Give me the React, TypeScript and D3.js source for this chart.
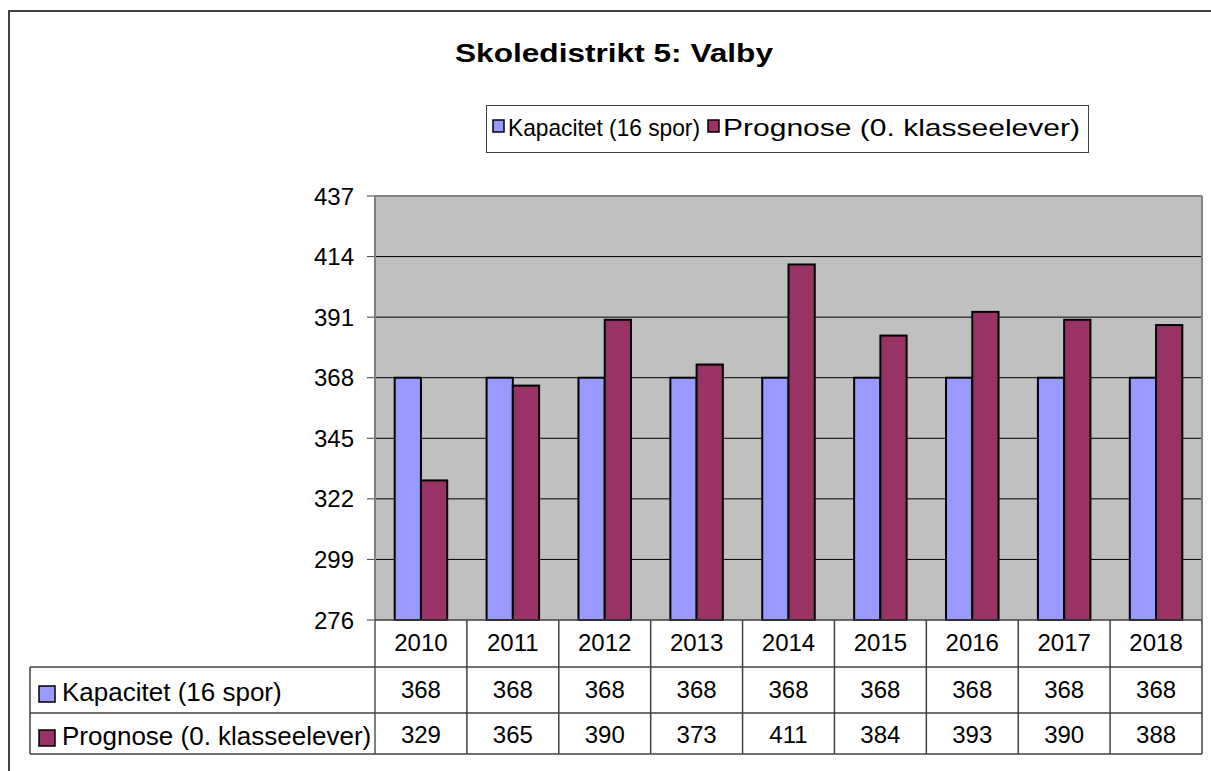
import React from "react";
import * as d3 from "d3";

const years = ["2010", "2011", "2012", "2013", "2014", "2015", "2016", "2017", "2018"];
const kapacitet = [368, 368, 368, 368, 368, 368, 368, 368, 368];
const prognose = [329, 365, 390, 373, 411, 384, 393, 390, 388];
const yTicks = [276, 299, 322, 345, 368, 391, 414, 437];
const seriesNames = ["Kapacitet (16 spor)", "Prognose (0. klasseelever)"];
const seriesColors = ["#9999FF", "#993366"];

const W = 1211;
const H = 771;
const FONT = "'Liberation Sans', Arial, sans-serif";

const App = () => {
  const plot = { left: 375, right: 1202, top: 196, bottom: 620 };
  const x = d3.scaleBand().domain(years).range([plot.left, plot.right]);
  // excel gap width 150%: two bars + 0.75 bar gap on each side
  const barW = x.bandwidth() / 3.5;
  const y = d3.scaleLinear().domain([276, 437]).range([plot.bottom, plot.top]);

  const series = [kapacitet, prognose];
  const rowTop = [620, 667, 713, 754];
  const tableLeft = 30;
  const numBase = [651, 698, 743];
  const labelBase = [701, 745];
  const legendX = [493, 708];
  const legendLen = [192, 357];

  return (
    <svg
      width={W}
      height={H}
      style={{ position: "absolute", left: 0, top: 0 }}
      fontFamily={FONT}
    >
      <rect x={0} y={0} width={W} height={H} fill="#fff" />
      <rect x={9} y={11} width={W + 10} height={H + 10} fill="none" stroke="#404040" strokeWidth={2} />

      <text
        x={614}
        y={62}
        textAnchor="middle"
        fontSize={26}
        fontWeight="bold"
        textLength={318}
        lengthAdjust="spacingAndGlyphs"
      >
        Skoledistrikt 5: Valby
      </text>

      {/* legend */}
      <rect x={486.5} y={105.5} width={602} height={47} fill="#fff" stroke="#404040" strokeWidth={1} />
      {seriesNames.map((n, i) => (
        <g key={n}>
          <rect x={legendX[i]} y={120} width={11} height={12} fill={seriesColors[i]} stroke="#000" strokeWidth={1.5} />
          <text
            x={legendX[i] + 15}
            y={136}
            fontSize={24}
            textLength={legendLen[i]}
            lengthAdjust="spacingAndGlyphs"
          >
            {n}
          </text>
        </g>
      ))}

      {/* plot area */}
      <rect x={plot.left} y={plot.top} width={plot.right - plot.left} height={plot.bottom - plot.top} fill="#C0C0C0" />
      {yTicks.map((t) => (
        <g key={t}>
          {t !== 276 && t !== 437 && (
            <line x1={plot.left} x2={plot.right} y1={y(t)} y2={y(t)} stroke="#000" strokeWidth={1} />
          )}
          <line x1={367} x2={plot.left} y1={y(t)} y2={y(t)} stroke="#404040" strokeWidth={1} />
          <text x={354} y={y(t) + 8.5} textAnchor="end" fontSize={24}>
            {t}
          </text>
        </g>
      ))}
      <line x1={plot.left} x2={plot.right} y1={plot.top} y2={plot.top} stroke="#808080" strokeWidth={2} />
      <line x1={plot.right} x2={plot.right} y1={plot.top} y2={plot.bottom} stroke="#808080" strokeWidth={2} />

      {/* bars */}
      {years.map((yr, i) =>
        series.map((s, k) => {
          const bx = (x(yr) as number) + 0.75 * barW + k * barW;
          return (
            <rect
              key={yr + k}
              x={bx}
              y={y(s[i])}
              width={barW}
              height={plot.bottom - y(s[i])}
              fill={seriesColors[k]}
              stroke="#000"
              strokeWidth={2}
            />
          );
        })
      )}
      <line x1={plot.left} x2={plot.left} y1={plot.top} y2={rowTop[3]} stroke="#808080" strokeWidth={2} />

      {/* data table */}
      {years.map((yr, i) => (
        <g key={"col" + yr}>
          <line
            x1={(x(yr) as number) + x.bandwidth()}
            x2={(x(yr) as number) + x.bandwidth()}
            y1={rowTop[0]}
            y2={rowTop[3]}
            stroke="#404040"
            strokeWidth={1.5}
          />
          <text x={(x(yr) as number) + x.bandwidth() / 2} y={numBase[0]} textAnchor="middle" fontSize={24}>
            {yr}
          </text>
          {series.map((s, k) => (
            <text
              key={k}
              x={(x(yr) as number) + x.bandwidth() / 2}
              y={numBase[k + 1]}
              textAnchor="middle"
              fontSize={24}
            >
              {s[i]}
            </text>
          ))}
        </g>
      ))}
      <line x1={plot.left} x2={plot.right} y1={rowTop[0]} y2={rowTop[0]} stroke="#404040" strokeWidth={1.5} />
      {[1, 2, 3].map((r) => (
        <line key={r} x1={tableLeft} x2={plot.right} y1={rowTop[r]} y2={rowTop[r]} stroke="#404040" strokeWidth={1.5} />
      ))}
      <line x1={tableLeft} x2={tableLeft} y1={rowTop[1]} y2={rowTop[3]} stroke="#404040" strokeWidth={1.5} />
      {seriesNames.map((n, k) => (
        <g key={"row" + n}>
          <rect
            x={39}
            y={labelBase[k] - 15}
            width={16}
            height={16}
            fill={seriesColors[k]}
            stroke="#000"
            strokeWidth={1.5}
          />
          <text x={62} y={labelBase[k]} fontSize={26}>
            {n}
          </text>
        </g>
      ))}
    </svg>
  );
};

export default App;
